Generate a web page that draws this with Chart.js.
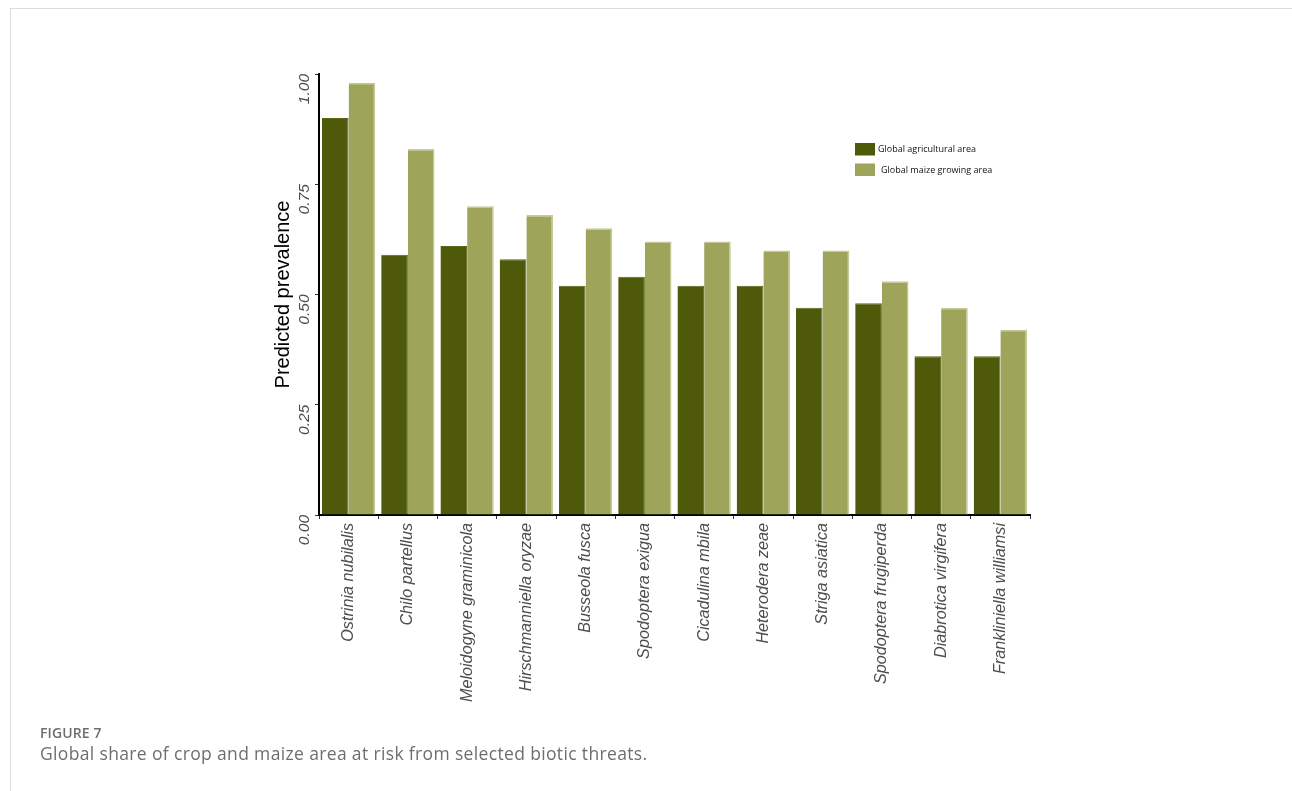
<!DOCTYPE html>
<html>
<head>
<meta charset="utf-8">
<script src="https://cdn.jsdelivr.net/npm/chart.js@4/dist/chart.umd.min.js"></script>
<style>
  html, body { margin: 0; padding: 0; background: #fff; }
  body { width: 1292px; height: 791px; position: relative; overflow: hidden; }
  #card { position: absolute; left: 10px; top: 8px; right: -2px; bottom: -2px; border-left: 1px solid #dcdcdc; border-top: 1px solid #dcdcdc; }
  #wrap { position: absolute; left: 0; top: 0; width: 1292px; height: 791px; }
  #fig { position: absolute; left: 40px; top: 723px; font-family: "Open Sans", sans-serif; font-size: 14px; color: #6e6e6e; font-weight: 600; letter-spacing: 0.1px; }
  #cap { position: absolute; left: 40px; top: 741px; font-family: "Open Sans", sans-serif; font-size: 17.5px; color: #6e6e6e; font-weight: 400; letter-spacing: 0.35px; }
</style>
</head>
<body>
<div id="card"></div>
<div id="wrap"><canvas id="c" width="1292" height="791"></canvas></div>
<div id="fig">FIGURE 7</div>
<div id="cap">Global share of crop and maize area at risk from selected biotic threats.</div>
<script>
const categories = ["Ostrinia nubilalis", "Chilo partellus", "Meloidogyne graminicola", "Hirschmanniella oryzae", "Busseola fusca", "Spodoptera exigua", "Cicadulina mbila", "Heterodera zeae", "Striga asiatica", "Spodoptera frugiperda", "Diabrotica virgifera", "Frankliniella williamsi"];
const agriculturalArea = [0.90, 0.59, 0.61, 0.58, 0.52, 0.54, 0.52, 0.52, 0.47, 0.48, 0.36, 0.36];
const maizeArea = [0.98, 0.83, 0.70, 0.68, 0.65, 0.62, 0.62, 0.60, 0.60, 0.53, 0.47, 0.42];
const yTicks = [0, 0.25, 0.5, 0.75, 1.0];
const seriesNames = ["Global agricultural area", "Global maize growing area"];

const legendPlugin = {
  id: 'insideLegend',
  afterDraw(chart) {
    const ctx = chart.ctx;
    const ca = chart.chartArea;
    const x0 = ca.left + 536;
    const y0 = 143;
    ctx.save();
    ctx.font = '9px "Open Sans", sans-serif';
    ctx.textBaseline = 'middle';
    ctx.textAlign = 'left';
    chart.data.datasets.forEach((ds, i) => {
      const y = y0 + i * 20.5;
      ctx.fillStyle = ds.backgroundColor;
      ctx.fillRect(x0, y, 20, 12.5);
      ctx.fillStyle = '#111';
      ctx.fillText(ds.label, x0 + 23 + i * 3, y + 6.5);
    });
    ctx.restore();
  }
};

new Chart(document.getElementById('c'), {
  type: 'bar',
  data: {
    labels: categories,
    datasets: [
      { label: seriesNames[0], data: agriculturalArea, backgroundColor: '#4e5a09', borderColor: '#5a6616', borderWidth: {top: 1, left: 0, right: 1, bottom: 0}, categoryPercentage: 0.9, barPercentage: 1.0 },
      { label: seriesNames[1], data: maizeArea, backgroundColor: '#9ea55a', borderColor: '#c6c99a', borderWidth: {top: 1.5, left: 0, right: 1.5, bottom: 0}, categoryPercentage: 0.9, barPercentage: 1.0 }
    ]
  },
  options: {
    responsive: false,
    animation: false,
    layout: { padding: { left: 259, right: 262, top: 74, bottom: 86 } },
    plugins: { legend: { display: false }, tooltip: { enabled: false } },
    scales: {
      x: {
        grid: { display: true, drawOnChartArea: false, drawTicks: true, tickLength: 4, color: '#333', lineWidth: 1 },
        border: { display: true, color: '#000', width: 2 },
        ticks: { autoSkip: false, minRotation: 90, maxRotation: 90, padding: 4, color: '#4d4d4d', font: { family: 'Arial, "Liberation Sans", sans-serif', size: 16.2, style: 'italic' } },
        afterFit(scale) { scale.height = 190; }
      },
      y: {
        min: 0, max: 1,
        afterBuildTicks(scale) { scale.ticks = yTicks.map(v => ({ value: v })); },
        grid: { display: true, drawOnChartArea: false, drawTicks: true, tickLength: 4, color: '#333', lineWidth: 1 },
        border: { display: true, color: '#000', width: 2 },
        ticks: { minRotation: 90, maxRotation: 90, padding: 10, color: '#4d4d4d', font: { family: 'Arial, "Liberation Sans", sans-serif', size: 15.5, style: 'italic' }, callback: v => Number(v).toFixed(2) },
        title: { display: true, text: 'Predicted prevalence', color: '#000', padding: { top: 12, bottom: 0 }, font: { family: 'Arial, "Liberation Sans", sans-serif', size: 20 } },
        afterFit(scale) { scale.width = 60; }
      }
    }
  },
  plugins: [legendPlugin]
});
</script>
</body>
</html>
